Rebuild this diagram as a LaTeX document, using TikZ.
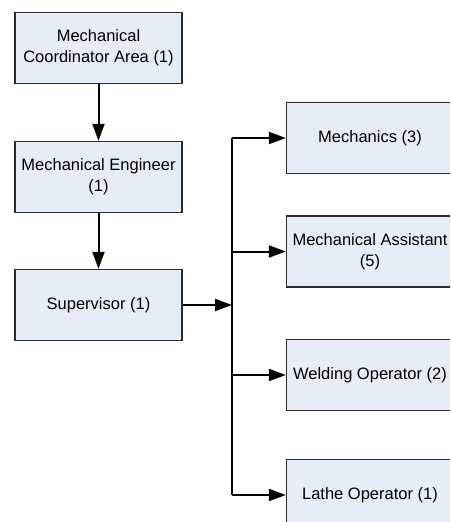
\documentclass[tikz,border=0pt]{standalone}
\usepackage{fontspec}
\setmainfont{Liberation Sans}
\usepackage{xcolor}
\usetikzlibrary{arrows.meta}

\definecolor{boxfill}{RGB}{231,237,248}
\definecolor{boxline}{RGB}{45,45,45}

\begin{document}
\begin{tikzpicture}[x=1pt, y=-1pt,
    unit/.style={draw=boxline, line width=1.3pt, fill=boxfill, align=center,
        minimum width=167pt, minimum height=71pt, inner sep=0pt,
        font=\fontsize{16.5}{21}\selectfont},
    link/.style={-{Triangle[length=17pt,width=12pt]}, line width=2pt}]
\useasboundingbox (0,0) rectangle (450,522);
\clip (0,0) rectangle (450,522);
% left column
\node[unit] (coord) at (98.5,48) {Mechanical\\Coordinator Area (1)};
\node[unit] (eng) at (98.5,177) {Mechanical Engineer\\(1)};
\node[unit] (sup) at (98.5,305) {Supervisor (1)};
% right column
\node[unit] (mech) at (370,138) {Mechanics (3)};
\node[unit] (assist) at (370,251.5) {Mechanical Assistant\\(5)};
\node[unit] (weld) at (370,375) {Welding Operator (2)};
\node[unit] (lathe) at (370,495) {Lathe Operator (1)};
\coordinate (bus) at (232,0);
\draw[link] (coord) -- (eng);
\draw[link] (eng) -- (sup);
\draw[link] (sup.east) -- (sup.east -| bus);
\draw[line width=2pt] (mech.west -| bus) -- (lathe.west -| bus);
\foreach \n in {mech,assist,weld,lathe}
    \draw[link] (\n.west -| bus) -- (\n.west);
\end{tikzpicture}
\end{document}
